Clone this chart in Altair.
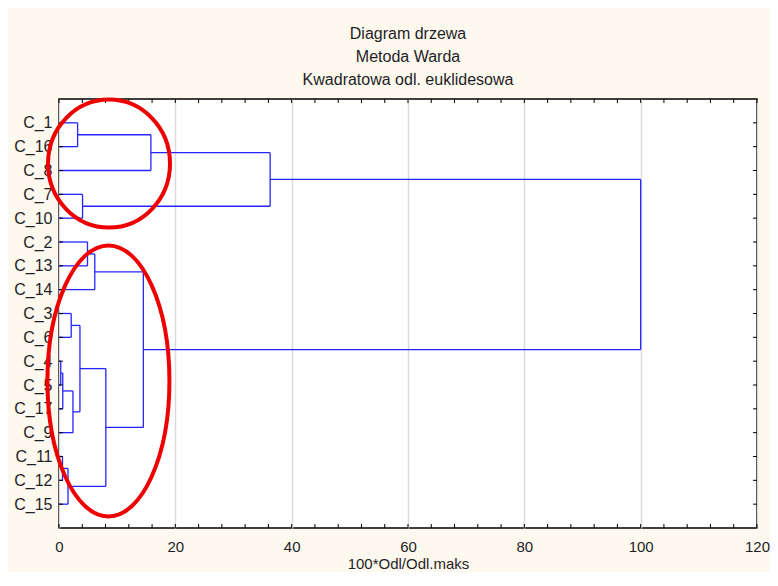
import altair as alt
import pandas as pd

# ---- data ----
leaves = ["C_1", "C_16", "C_8", "C_7", "C_10", "C_2", "C_13", "C_14", "C_3",
          "C_6", "C_4", "C_5", "C_17", "C_9", "C_11", "C_12", "C_15"]

# merge steps: left child, right child, linkage distance (100*Odl/Odl.maks)
# "#k" refers to the cluster created by merge step k
merge_left = ["C_4", "C_11", "#0", "#1", "C_3", "#2", "C_1", "#4", "C_7",
              "C_2", "#9", "#7", "#10", "#6", "#13", "#14"]
merge_right = ["C_5", "C_12", "C_17", "C_15", "C_6", "C_9", "C_16", "#5", "C_10",
               "C_13", "C_14", "#3", "#11", "C_8", "#8", "#12"]
merge_height = [0.3, 0.6, 0.65, 1.55, 2.1, 2.4, 3.2, 3.6, 4.05,
                4.9, 6.15, 8.05, 14.5, 15.8, 36.3, 100.0]

x_ticks = [0, 20, 40, 60, 80, 100, 120]
minor_ticks = list(range(0, 121, 4))

title_lines = ["Diagram drzewa", "Metoda Warda", "Kwadratowa odl. euklidesowa"]
x_title = "100*Odl/Odl.maks"

# ---- build dendrogram segments from the merge table ----
pos = {name: (float(i), 0.0) for i, name in enumerate(leaves)}  # (y, height)
segs = []
for k, (a, b, h) in enumerate(zip(merge_left, merge_right, merge_height)):
    ya, ha = pos[a]
    yb, hb = pos[b]
    segs.append({"x": ha, "x2": h, "y": ya, "y2": ya})
    segs.append({"x": hb, "x2": h, "y": yb, "y2": yb})
    segs.append({"x": h, "x2": h, "y": ya, "y2": yb})
    pos["#%d" % k] = ((ya + yb) / 2.0, h)
seg_df = pd.DataFrame(segs)

W, H = 698, 429
FONT = "Liberation Sans"
TXT = "#1e1e28"

xscale = alt.Scale(domain=[0, 120], nice=False, zero=False)
yscale = alt.Scale(domain=[-1, 17], reverse=True, nice=False, zero=False)

label_expr = "[" + ",".join("'%s'" % s for s in leaves) + "][datum.value]"

x_axis = alt.Axis(values=x_ticks, grid=True, gridColor="#dadada", gridWidth=1.5,
                  ticks=False, tickSize=0, domain=False, labelFontSize=15,
                  labelFont=FONT, labelColor=TXT, labelPadding=11,
                  labelFlush=False, labelOverlap=False,
                  titleFont=FONT, titleFontSize=15, titleFontWeight="normal",
                  titleColor=TXT, titlePadding=2)
y_axis = alt.Axis(values=list(range(len(leaves))), labelExpr=label_expr,
                  grid=False, ticks=False, tickSize=0, domain=False,
                  labelFontSize=16, labelFont=FONT, labelColor=TXT,
                  labelPadding=7, labelOverlap=False, labelFlush=False)


def X(field):
    return alt.X(field, scale=xscale, axis=x_axis, title=x_title)


def Y(field):
    return alt.Y(field, scale=yscale, axis=y_axis, title=None)


lines = alt.Chart(seg_df).mark_rule(color="#2424ff", strokeWidth=1.3).encode(
    x=X("x:Q"), x2="x2:Q", y=Y("y:Q"), y2="y2:Q")

tick_x_df = pd.DataFrame({"t": minor_ticks})
tick_y_df = pd.DataFrame({"t": list(range(len(leaves)))})
tcol = "#000000"
ticks_bottom = alt.Chart(tick_x_df).mark_rule(color=tcol, strokeWidth=1).encode(
    x=X("t:Q"), y=alt.value(H), y2=alt.value(H - 4))
ticks_top = alt.Chart(tick_x_df).mark_rule(color=tcol, strokeWidth=1).encode(
    x=X("t:Q"), y=alt.value(0), y2=alt.value(4))
ticks_left = alt.Chart(tick_y_df).mark_rule(color=tcol, strokeWidth=1).encode(
    y=Y("t:Q"), x=alt.value(0), x2=alt.value(4))
ticks_right = alt.Chart(tick_y_df).mark_rule(color=tcol, strokeWidth=1).encode(
    y=Y("t:Q"), x=alt.value(W), x2=alt.value(W - 4))


def ellipse_path(ratio):
    k = 0.5523
    a = ratio
    return (f"M {a} 0 C {a} {k} {k*a} 1 0 1 C {-k*a} 1 {-a} {k} {-a} 0 "
            f"C {-a} {-k} {-k*a} -1 0 -1 C {k*a} -1 {a} {-k} {a} 0 Z")


ell_top = alt.Chart(pd.DataFrame({"cx": [8.6], "cy": [1.71]})).mark_point(
    shape=ellipse_path(61 / 64), size=(2 * 64) ** 2, filled=False,
    stroke="#ee0000", strokeWidth=4, opacity=1).encode(
    x=X("cx:Q"), y=Y("cy:Q"))
ell_bot = alt.Chart(pd.DataFrame({"cx": [8.5], "cy": [10.83]})).mark_point(
    shape=ellipse_path(61 / 135.5), size=(2 * 135.5) ** 2, filled=False,
    stroke="#ee0000", strokeWidth=4, opacity=1).encode(
    x=X("cx:Q"), y=Y("cy:Q"))

chart = alt.layer(lines, ticks_bottom, ticks_top, ticks_left, ticks_right,
                  ell_top, ell_bot).properties(
    width=W, height=H,
    title=alt.TitleParams(title_lines, font=FONT, fontSize=16, fontWeight="normal",
                          color=TXT, lineHeight=23, anchor="middle", offset=4),
    background="#fef9ee",
    padding={"left": 51, "top": 91, "right": 13, "bottom": 44},
    autosize=alt.AutoSizeParams(type="none"),
).configure_view(fill="white", stroke="#000000", strokeWidth=1.6)

chart.save("out.html", embed_options={"renderer": "svg", "actions": False})
